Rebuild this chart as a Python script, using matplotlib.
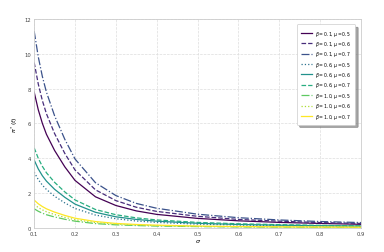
import numpy as np
import matplotlib as mpl
mpl.use('Agg')
import matplotlib.pyplot as plt

sigma = [0.1, 0.11, 0.12, 0.13, 0.15, 0.175, 0.2, 0.25, 0.3, 0.35, 0.4, 0.5, 0.6, 0.7, 0.8, 0.9]

labels = [r'$\beta = 0.1, \mu = 0.5$', r'$\beta = 0.1, \mu = 0.6$', r'$\beta = 0.1, \mu = 0.7$',
          r'$\beta = 0.6, \mu = 0.5$', r'$\beta = 0.6, \mu = 0.6$', r'$\beta = 0.6, \mu = 0.7$',
          r'$\beta = 1.0, \mu = 0.5$', r'$\beta = 1.0, \mu = 0.6$', r'$\beta = 1.0, \mu = 0.7$']

b01_m05 = [7.8, 6.79, 6.01, 5.38, 4.45, 3.51, 2.73, 1.79, 1.29, 0.98, 0.78, 0.55, 0.41, 0.32, 0.26, 0.21]
b01_m06 = [9.5, 8.27, 7.32, 6.56, 5.42, 4.28, 3.33, 2.19, 1.57, 1.19, 0.95, 0.67, 0.49, 0.39, 0.31, 0.26]
b01_m07 = [11.3, 9.83, 8.70, 7.80, 6.44, 5.09, 3.96, 2.60, 1.86, 1.41, 1.13, 0.79, 0.59, 0.46, 0.37, 0.31]
b06_m05 = [3.2, 2.78, 2.46, 2.21, 1.82, 1.44, 1.12, 0.74, 0.53, 0.40, 0.32, 0.22, 0.17, 0.13, 0.11, 0.09]
b06_m06 = [3.9, 3.39, 3.00, 2.69, 2.22, 1.76, 1.37, 0.90, 0.64, 0.49, 0.39, 0.27, 0.20, 0.16, 0.13, 0.11]
b06_m07 = [4.6, 4.00, 3.54, 3.17, 2.62, 2.07, 1.61, 1.06, 0.76, 0.58, 0.46, 0.32, 0.24, 0.19, 0.15, 0.12]
b10_m05 = [1.1, 0.96, 0.85, 0.76, 0.63, 0.50, 0.39, 0.25, 0.18, 0.14, 0.11, 0.08, 0.06, 0.05, 0.04, 0.03]
b10_m06 = [1.35, 1.17, 1.04, 0.93, 0.77, 0.61, 0.47, 0.31, 0.22, 0.17, 0.135, 0.095, 0.07, 0.055, 0.045, 0.036]
b10_m07 = [1.6, 1.39, 1.23, 1.10, 0.91, 0.72, 0.56, 0.37, 0.26, 0.20, 0.16, 0.11, 0.083, 0.066, 0.053, 0.043]

series = [b01_m05, b01_m06, b01_m07, b06_m05, b06_m06, b06_m07, b10_m05, b10_m06, b10_m07]

plt.rcParams['font.family'] = ['DejaVu Sans']
fig = plt.figure(figsize=(3.84, 2.53), dpi=100)
ax = fig.add_axes([0.089, 0.095, 0.851, 0.826])

colors = plt.cm.viridis(np.linspace(0, 1, len(series)))
styles = ['-', '--', '-.', ':']
for i, ys in enumerate(series):
    ax.plot(sigma, ys, color=colors[i], linestyle=styles[i % 4], linewidth=0.9, label=labels[i])

ax.set_xlim(0.1, 0.9)
ax.set_ylim(0, 12)
ax.set_xticks(np.arange(0.1, 0.91, 0.1))
ax.set_yticks([0, 2, 4, 6, 8, 10, 12])
ax.tick_params(labelsize=3.8, length=0, pad=2, colors='#444444')
ax.grid(True, color='#dddddd', linestyle='--', linewidth=0.5)
for s in ax.spines.values():
    s.set_color('#cccccc')
    s.set_linewidth(0.6)
ax.set_xlabel(r'$\sigma$', fontsize=4.5, labelpad=1)
ax.set_ylabel(r'$\pi^*(t)$', fontsize=4.5, labelpad=3)

leg = ax.legend(loc='upper right', fontsize=3.3, frameon=True, shadow=True,
                borderpad=0.9, labelspacing=0.3, handlelength=2.4, handletextpad=0.7,
                bbox_to_anchor=(0.99, 0.985))
leg.get_frame().set_edgecolor('#cccccc')
leg.get_frame().set_linewidth(0.5)

plt.savefig('out.png', dpi=100)
